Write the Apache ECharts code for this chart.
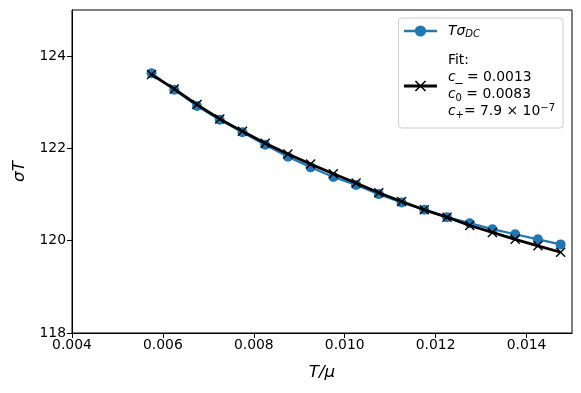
<!DOCTYPE html>
<html>
<head>
<meta charset="utf-8">
<script src="https://cdn.jsdelivr.net/npm/echarts@6/dist/echarts.min.js"></script>
<style>html,body{margin:0;padding:0;background:#fff;}#c{width:581px;height:393px;}</style>
</head>
<body>
<div id="c"></div>
<script>
var xValues = [0.00575,0.00625,0.00675,0.00725,0.00775,0.00825,0.00875,0.00925,0.00975,0.01025,0.01075,0.01125,0.01175,0.01225,0.01275,0.01325,0.01375,0.01425,0.01475];
var dataValues = [123.63,123.27,122.92,122.62,122.35,122.08,121.82,121.59,121.38,121.21,121.01,120.83,120.67,120.51,120.38,120.25,120.14,120.03,119.92];
var fitValues = [123.60,123.29,122.95,122.64,122.37,122.11,121.88,121.66,121.45,121.25,121.04,120.85,120.67,120.51,120.33,120.18,120.03,119.89,119.75];
var xTicks = [0.004,0.006,0.008,0.010,0.012,0.014];
var yTicks = [118,120,122,124];

function pairs(xs, ys){ return xs.map(function(x,i){ return [x, ys[i]]; }); }

var FONT = 'DejaVu Sans';
var crossPath = 'path://M0,1 L1,0 L5,4 L9,0 L10,1 L6,5 L10,9 L9,10 L5,6 L1,10 L0,9 L4,5 Z';

var chart = echarts.init(document.getElementById('c'), null, {renderer:'canvas'});
chart.setOption({
  animation: false,
  backgroundColor: '#fff',
  grid: {left:72, right:9, top:10, bottom:60, show:true, borderColor:'#000', borderWidth:1, backgroundColor:'transparent'},
  xAxis: {
    type:'value', min:0.004, max:0.015, interval:0.002,
    name:'T/μ', nameLocation:'middle', nameGap:31,
    nameTextStyle:{fontFamily:FONT, fontSize:16.7, fontStyle:'italic', color:'#000'},
    axisLine:{show:true, lineStyle:{color:'#000', width:1}},
    axisTick:{show:true, length:5, lineStyle:{color:'#000', width:1}},
    axisLabel:{fontFamily:FONT, fontSize:13.9, color:'#000', margin:5, showMaxLabel:false,
      formatter:function(v){ return xTicks.some(function(t){return Math.abs(t-v)<1e-9;}) ? v.toFixed(3) : ''; }},
    splitLine:{show:false}
  },
  yAxis: {
    type:'value', min:118, max:125, interval:2,
    name:'σT', nameLocation:'middle', nameGap:42, nameRotate:90,
    nameTextStyle:{fontFamily:FONT, fontSize:16.7, fontStyle:'italic', color:'#000'},
    axisLine:{show:true, lineStyle:{color:'#000', width:1}},
    axisTick:{show:true, length:5, lineStyle:{color:'#000', width:1}},
    axisLabel:{fontFamily:FONT, fontSize:13.9, color:'#000', margin:6, showMaxLabel:false,
      formatter:function(v){ return yTicks.indexOf(v)>=0 ? String(v) : ''; }},
    splitLine:{show:false}
  },
  legend: {
    orient:'vertical', right:18, top:18,
    padding:[6,8,8,4], itemGap:14, itemWidth:33, itemHeight:14,
    backgroundColor:'rgba(255,255,255,0.8)', borderColor:'#cccccc', borderWidth:1, borderRadius:3,
    textStyle:{fontFamily:FONT, fontSize:13.9, color:'#000', padding:[0,0,0,6],
      rich:{
        n:{fontFamily:FONT, fontSize:13.9, color:'#000', lineHeight:17},
        it:{fontFamily:FONT, fontSize:13.9, fontStyle:'italic', color:'#000', lineHeight:17},
        sub:{fontFamily:FONT, fontSize:10, fontStyle:'italic', color:'#000', verticalAlign:'bottom', lineHeight:17},
        subn:{fontFamily:FONT, fontSize:10, color:'#000', verticalAlign:'bottom', lineHeight:17},
        sup:{fontFamily:FONT, fontSize:10, color:'#000', verticalAlign:'top', lineHeight:17}
      }
    },
    formatter:function(name){
      if(name==='data') return '{it|Tσ}{sub|DC}';
      return '{n|Fit:}\n{it|c}{n|_ = 0.0013}\n{it|c}{subn|0}{n| = 0.0083}\n{it|c}{subn|+}{n|= 7.9 × 10}{sup|−7}';
    },
    data:[
      {name:'data', lineStyle:{width:2.6, color:'#1f77b4'}},
      {name:'fit', lineStyle:{width:2.8, color:'#000'}}
    ]
  },
  series: [
    {name:'data', type:'line', data:pairs(xValues,dataValues), symbol:'circle', symbolSize:10,
     lineStyle:{color:'#1f77b4', width:2.2}, itemStyle:{color:'#1f77b4'}, z:2},
    {name:'fit', type:'line', data:pairs(xValues,fitValues), symbol:crossPath, symbolSize:10,
     lineStyle:{color:'#000', width:2.8}, itemStyle:{color:'#000'}, z:3}
  ]
});
</script>
</body>
</html>
